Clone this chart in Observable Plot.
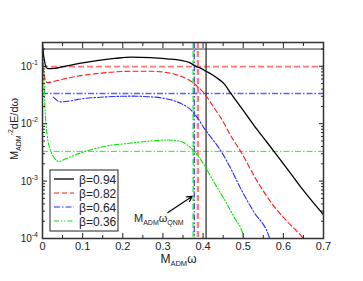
<!DOCTYPE html>
<html><head><meta charset="utf-8">
<script src="https://cdn.jsdelivr.net/npm/d3@7"></script>
<script src="https://cdn.jsdelivr.net/npm/@observablehq/plot@0.6"></script>
<style>body{margin:0;background:#fff}</style>
</head><body><div id="chart"></div>
<script>
// ---- data ----
const betas = ["0.94", "0.82", "0.64", "0.36"];
const wBlack = [0, 0.003, 0.012, 0.03, 0.055, 0.1, 0.14, 0.18, 0.22, 0.27, 0.31, 0.345, 0.365, 0.3825, 0.395, 0.4075, 0.422, 0.437, 0.452, 0.47, 0.495, 0.528, 0.553, 0.578, 0.612, 0.645, 0.67, 0.7];
const eBlack = [0.26, 0.15, 0.091, 0.092, 0.10, 0.115, 0.127, 0.137, 0.145, 0.142, 0.135, 0.127, 0.117, 0.10, 0.092, 0.082, 0.072, 0.061, 0.050, 0.033, 0.019, 0.0091, 0.0054, 0.0032, 0.00155, 0.00076, 0.00046, 0.00026];
const wRed = [0, 0.004, 0.012, 0.03, 0.0525, 0.09, 0.137, 0.18, 0.22, 0.27, 0.303, 0.325, 0.345, 0.37, 0.387, 0.403, 0.425, 0.445, 0.47, 0.495, 0.528, 0.57, 0.612, 0.645, 0.65];
const eRed = [0.1, 0.07, 0.052, 0.055, 0.06, 0.068, 0.075, 0.080, 0.082, 0.082, 0.079, 0.074, 0.067, 0.055, 0.044, 0.0336, 0.020, 0.0124, 0.006, 0.0032, 0.0012, 0.00042, 0.00019, 0.00011, 0.0001];
const wBlue = [0.027, 0.045, 0.07, 0.095, 0.137, 0.18, 0.22, 0.27, 0.303, 0.325, 0.345, 0.37, 0.387, 0.403, 0.415, 0.445, 0.47, 0.495, 0.528, 0.562, 0.566];
const eBlue = [0.029, 0.024, 0.025, 0.027, 0.0287, 0.0298, 0.0302, 0.0294, 0.0276, 0.0255, 0.0225, 0.0173, 0.0124, 0.0083, 0.0064, 0.0033, 0.0016, 0.00071, 0.00028, 0.00012, 0.0001];
const wGreen = [0.001, 0.003, 0.006, 0.012, 0.02, 0.03, 0.041, 0.06, 0.095, 0.153, 0.22, 0.27, 0.31, 0.345, 0.36, 0.378, 0.403, 0.428, 0.453, 0.478, 0.499, 0.502];
const eGreen = [0.2, 0.08, 0.02, 0.006, 0.0034, 0.0025, 0.0022, 0.0025, 0.0031, 0.0040, 0.0046, 0.0050, 0.0052, 0.0049, 0.0043, 0.0033, 0.0019, 0.00093, 0.00048, 0.00023, 0.00012, 0.0001];
const omegaQNM = [0.4075, 0.387, 0.378, 0.3757];   // vertical reference lines
const plateau = [0.2, 0.099, 0.0336, 0.0033];       // horizontal reference lines
const xTicks = [0, 0.1, 0.2, 0.3, 0.4, 0.5, 0.6, 0.7];
const xMinor = [0.05, 0.15, 0.25, 0.35, 0.45, 0.55, 0.65];
const yTicks = [1e-4, 1e-3, 1e-2, 1e-1];
const yExp = ["-4", "-3", "-2", "-1"];
const arrowFrom = [0.3125, 2.83e-4];
const arrowTo = [0.3725, 5.4e-4];

// ---- styles ----
const curveStyle = [
  {stroke: "#000000", dash: null, width: 1.3},
  {stroke: "#ff1a1a", dash: "5,3", width: 1.1},
  {stroke: "#2a2aff", dash: "6,2,1.5,2", width: 1.1},
  {stroke: "#00e600", dash: "5,2,1.2,2,1.2,2", width: 1.1}
];
const vStyle = [
  {stroke: "#222", dash: null, width: 1.2, op: 1},
  {stroke: "#ff5555", dash: "6,3", width: 2.2, op: 0.8},
  {stroke: "#2a2aff", dash: "6,2,1.5,2", width: 1.1, op: 1},
  {stroke: "#44ee44", dash: "6,3", width: 2.2, op: 0.8}
];
const hStyle = [
  {stroke: "#333", dash: null, width: 1, op: 1},
  {stroke: "#ff5555", dash: "6,3", width: 1.8, op: 0.8},
  {stroke: "#5c5cff", dash: "6,2,1.5,2", width: 1.3, op: 1},
  {stroke: "#22ee22", dash: "6,2,1.5,2", width: 1, op: 1}
];

const series = [[wBlack, eBlack], [wRed, eRed], [wBlue, eBlue], [wGreen, eGreen]]
  .map(([w, e]) => w.map((x, i) => ({x, y: e[i]})));

const yMinor = [];
for (const d of yTicks) for (let k = 2; k <= 9; k++) { const v = d * k; if (v <= 0.26) yMinor.push(v); }

const marks = [];
plateau.forEach((v, i) => marks.push(Plot.ruleY([v], {stroke: hStyle[i].stroke, strokeDasharray: hStyle[i].dash, strokeWidth: hStyle[i].width, strokeOpacity: hStyle[i].op})));
[3, 1, 2, 0].forEach(i => marks.push(Plot.ruleX([omegaQNM[i]], {stroke: vStyle[i].stroke, strokeDasharray: vStyle[i].dash, strokeWidth: vStyle[i].width, strokeOpacity: vStyle[i].op})));
[3, 2, 1, 0].forEach(i => marks.push(Plot.line(series[i], {x: "x", y: "y", stroke: curveStyle[i].stroke, strokeDasharray: curveStyle[i].dash, strokeWidth: curveStyle[i].width, curve: "monotone-x", clip: true})));
marks.push(Plot.arrow([{x1: arrowFrom[0], y1: arrowFrom[1], x2: arrowTo[0], y2: arrowTo[1]}], {x1: "x1", y1: "y1", x2: "x2", y2: "y2", stroke: "black", strokeWidth: 1.2, headLength: 7}));
marks.push(Plot.axisX({ticks: xTicks, tickSize: 0, tickPadding: 4, label: null, tickFormat: d => d === 0 ? "0" : String(d), fontSize: 11}));
marks.push(Plot.axisX({ticks: xTicks, anchor: "bottom", tickSize: -5, tickFormat: () => "", label: null}));
marks.push(Plot.axisX({ticks: xMinor, anchor: "bottom", tickSize: -3, tickFormat: () => "", label: null}));
marks.push(Plot.axisX({ticks: xTicks, anchor: "top", tickSize: -5, tickFormat: () => "", label: null}));
marks.push(Plot.axisX({ticks: xMinor, anchor: "top", tickSize: -3, tickFormat: () => "", label: null}));
marks.push(Plot.axisY({ticks: yTicks, anchor: "left", tickSize: -5, tickFormat: () => "", label: null}));
marks.push(Plot.axisY({ticks: yMinor, anchor: "left", tickSize: -3, tickFormat: () => "", label: null}));
marks.push(Plot.axisY({ticks: yTicks, anchor: "right", tickSize: -5, tickFormat: () => "", label: null}));
marks.push(Plot.axisY({ticks: yMinor, anchor: "right", tickSize: -3, tickFormat: () => "", label: null}));
marks.push(Plot.frame({stroke: "#333", strokeWidth: 1.5}));

const chart = Plot.plot({
  width: 363, height: 281,
  marginLeft: 42, marginRight: 40, marginTop: 42, marginBottom: 43,
  x: {domain: [0, 0.7]},
  y: {type: "log", domain: [1e-4, 0.26]},
  style: {fontFamily: "Liberation Sans, Arial, sans-serif", fontSize: "11px", background: "white", color: "#222"},
  marks
});
document.getElementById("chart").appendChild(chart);

// ---- text annotations (positioned through the Plot scales) ----
const svg = d3.select(chart);
const xs = chart.scale("x"), ys = chart.scale("y");
const font = "Liberation Sans, Arial, sans-serif";
yTicks.forEach((t, i) => {
  const tx = svg.append("text").attr("x", 38).attr("y", ys.apply(t) + 4).attr("text-anchor", "end")
    .attr("font-family", font).attr("font-size", 10).attr("fill", "#222");
  tx.append("tspan").text("10");
  tx.append("tspan").attr("dy", -5).attr("font-size", 7).text(yExp[i]);
});
{
  const t = svg.append("text").attr("x", xs.apply(0.34)).attr("y", 263).attr("text-anchor", "middle")
    .attr("font-family", font).attr("font-size", 12).attr("fill", "#222");
  t.append("tspan").text("M");
  t.append("tspan").attr("dy", 3).attr("font-size", 7.5).text("ADM");
  t.append("tspan").attr("dy", -3).text("ω");
}
{
  const t = svg.append("text").attr("transform", `translate(18,129) rotate(-90)`).attr("text-anchor", "middle")
    .attr("font-family", font).attr("font-size", 11).attr("fill", "#222");
  t.append("tspan").text("M");
  t.append("tspan").attr("dy", 3).attr("font-size", 7).text("ADM");
  t.append("tspan").attr("dy", -8).attr("font-size", 7).text("-2");
  t.append("tspan").attr("dy", 5).text("dE/dω");
}
{
  const t = svg.append("text").attr("x", 134).attr("y", ys.apply(arrowFrom[1]) + 10).attr("text-anchor", "start")
    .attr("font-family", font).attr("font-size", 11).attr("fill", "#222");
  t.append("tspan").text("M");
  t.append("tspan").attr("dy", 3).attr("font-size", 7).text("ADM");
  t.append("tspan").attr("dy", -3).text("ω");
  t.append("tspan").attr("dy", 3).attr("font-size", 7).text("QNM");
}
{
  const lx = 50, ly = 170, lw = 68, lh = 61;
  svg.append("rect").attr("x", lx).attr("y", ly).attr("width", lw).attr("height", lh)
    .attr("fill", "white").attr("stroke", "#222").attr("stroke-width", 1);
  betas.forEach((b, i) => {
    const yy = ly + 9 + i * 14;
    svg.append("line").attr("x1", lx + 4).attr("x2", lx + 24).attr("y1", yy).attr("y2", yy)
      .attr("stroke", curveStyle[i].stroke).attr("stroke-width", curveStyle[i].width)
      .attr("stroke-dasharray", curveStyle[i].dash);
    svg.append("text").attr("x", lx + 29).attr("y", yy + 4.5).attr("text-anchor", "start").attr("font-family", font)
      .attr("font-size", 12).attr("fill", "#222").text("β=" + b);
  });
}
</script></body></html>
